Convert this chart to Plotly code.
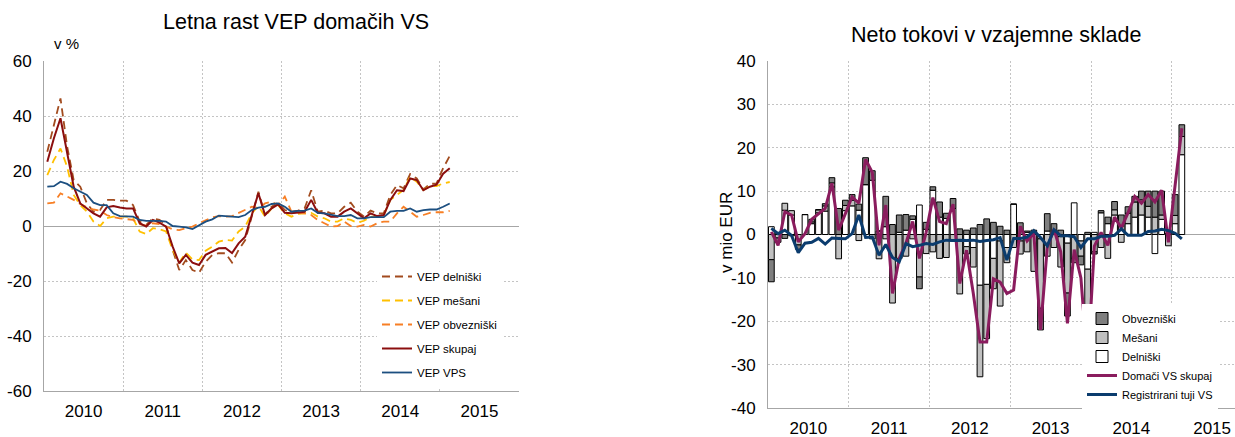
import plotly.graph_objects as go

# ---------------- data ----------------
years = ["2010", "2011", "2012", "2013", "2014", "2015"]
# months Jan 2010 .. Feb 2015 (62 monthly points)
n_months = 62

vep_delniski = [27, 36.7, 46.4, 29, 16.7, 14.3, 8.2, 5.2, 5.8, 9.5, 9.5, 9.2,
                9.2, 7.6, 1.6, 0.4, 2.8, 2.2, 0.4, -8.7, -16, -12.4, -16, -17,
                -13, -10.5, -9.9, -9.9, -13.3, -8.7, -5.1, 3.5, 12.5, 4, 7, 8.5,
                5.8, 5.2, 5.6, 6.4, 13, 5.2, 5.6, 4.6, 4.6, 7, 8.5, 5.2,
                3.4, 5.6, 4.6, 4.6, 11.3, 14.9, 13.7, 18.9, 17.3, 13.3, 15.3, 15.5,
                21, 25.5]
vep_mesani = [18.5, 24, 28.2, 21.6, 11.3, 7.6, 5.2, 1.6, 0, 2.8, 3.4, 3.4,
              3.4, 2.8, -2, -2.9, -0.8, -1.2, -2, -8.7, -13.3, -9.7, -12.1, -12.4,
              -9, -7.5, -5.7, -5.1, -5.3, -2, -0.2, 4.6, 7.3, 3.4, 6.4, 7.6,
              4.6, 3.4, 4.4, 4.6, 4.8, 3.4, 2.8, 1.6, 1.6, 2.8, 2.2, 1.2,
              1.9, 3.4, 3.2, 4, 9.5, 11.3, 13.1, 17.9, 16.1, 13.1, 14.5, 14.5,
              15.5, 16]
vep_obvezniski = [8.2, 8.5, 11.9, 10.7, 9.5, 8, 6.8, 6, 5.6, 4, 3.2, 2.8,
                  2.4, 2.2, 0.7, 0.1, 1, 0.7, -0.2, -1.2, -1.5, -0.8, -0.2, 1,
                  2.2, 3.2, 3.6, 3.4, 3.6, 4.8, 5.8, 7, 6.4, 8.2, 8.8, 7.6,
                  10.7, 5.2, 4.8, 4.6, 4, 2.2, 1, -0.2, 0, 1.6, 0, -0.2,
                  0.4, -0.2, 1, 1.6, 1.6, 4.6, 7, 5.2, 3.4, 4, 4.8, 5,
                  5, 5.5]
vep_skupaj = [23.4, 31.9, 39.2, 27, 14.3, 8.2, 6.4, 4.6, 3.4, 6.8, 7.3, 6.7,
              6.4, 6.4, 1.0, -0.2, 2.2, 1.2, -0.2, -7.5, -13.6, -10.5, -13.3, -14.2,
              -10.5, -9.3, -8.1, -8.0, -9.8, -6.3, -3.9, 4, 11.9, 4, 6.4, 7.9,
              4.8, 4.6, 4.8, 5.2, 9.5, 4.8, 4.6, 3.4, 3.4, 5.2, 6.4, 4.6,
              2.8, 4.6, 3.6, 4.0, 9.5, 13.0, 12.7, 17.3, 16.7, 13.0, 14.3, 15.0,
              19.0, 21.0]
vep_vps = [14.3, 14.5, 16.1, 15.3, 13.7, 12.5, 11.3, 8.5, 7.6, 7.6, 4.6, 3.6,
           3.4, 3.4, 2.2, 1.9, 1.9, 1.9, 1.6, 0, -0.2, -0.5, -1.1, 0.4,
           1.6, 2.4, 3.8, 3.6, 3.4, 3.2, 4, 5.8, 6.7, 7, 8, 8.2,
           7, 5.2, 5.5, 5.6, 6.4, 4.8, 4.6, 4, 3.6, 3.6, 4, 2.8,
           2.8, 3.2, 3.2, 3.2, 5.2, 5.5, 5.5, 6.4, 5.2, 5.8, 6, 6,
           7, 8.2]

# net flows (mio EUR)
tok_delniski = [1.8, 0.3, 5.6, 4.5, 0, 4.6, 2.5, 5.0, 5.4, 11.0, 0, 5.5,
                6.6, 5.6, 11.5, 12.5, 0.8, 1.8, 0, 0.5, 1.0, 3.5, 6.8, 1.2,
                10.2, 4.0, 3.7, 6.0, 0, -2.8, -3.0, -11.7, -11.5, -5.5, -1.5, -3.0,
                7.0, -1.5, 0.5, 0, -1.0, 0.8, 0.5, -0.5, -2.0, 7.3, -1.5, -8.0,
                0.5, 5.0, 2.5, 4.5, 2.0, 2.5, 4.0, 4.5, 4.0, -4.4, 3.5, 0.3,
                2.5, 18.4]
tok_mesani = [-5.8, -0.8, 1.6, 1.0, -2.4, 0, 0.4, 0.7, 1.2, 0.9, -5.6, 1.2,
              1.3, -1.4, 0, -1.0, -5.6, -1.0, -15.8, -5.5, -5.0, -1.0, -9.8, -4.4,
              -4.0, -5.5, -5.3, -1.5, -13.7, -1.7, -4.5, -21.1, -12.5, -7.0, -15.0, -3.5,
              -3.0, -3.0, -4.0, -8.5, -16.0, -5.0, -3.0, -7.0, -11.5, -5.5, -3.5, -9.0,
              -4.0, -3.0, -5.5, 1.2, -1.8, 2.4, 3.5, 3.5, 2.5, 4.0, 1.0, -2.6,
              1.9, 4.2]
tok_obvezniski = [-5.1, -1.0, -0.9, -0.3, -1.0, 0, 0.6, 0, 0.5, 1.2, 6.0, 1.2,
                  1.3, 1.4, 6.2, 2.2, 0, 7.0, 2.3, 4.0, 3.6, 0.8, -2.7, 1.6,
                  0.8, 3.5, 1.2, 2.3, 1.3, 1.0, 1.5, 2.3, 3.6, 2.8, 1.9, 1.0,
                  0, 2.7, 0.3, 1.0, -5.0, 4.0, 2.0, 1.0, -5.3, -1.0, -2.0, 0.5,
                  -0.5, 0.5, 1.5, 1.9, 2.5, 1.5, 1.3, 2.0, 3.5, 6.0, 5.5, 0,
                  4.8, 2.7]
domaci_skupaj = [0.6, -2.5, 5.2, 4.5, -1.7, 0.2, 3.5, 4.8, 6.0, 11.8, 1.0, 4.8,
                 8.7, 7.2, 17.3, 14.3, -2.5, 6.8, -13.6, -5.5, -2.0, 3.0, -5.5, 0.5,
                 8.5, 3.0, 2.5, 7.0, -11.3, -3.6, -13.5, -24.8, -24.8, -10.2, -11.0, -13.6,
                 -12.8, 1.9, -1.5, 0.3, -22.0, -3.0, 1.2, -4.0, -20.5, -3.5, -10.0, -30.0,
                 -2.7, 0.5, -2.5, 4.0, 1.5, 5.0, 8.8, 7.2, 9.2, 7.5, 10.2, -1.8,
                 11.0, 24.5]
tuji_vs = [1.4, 0.2, 1.0, -0.2, -4.2, -2.0, -1.8, -0.9, -2.2, -0.8, -0.9, -1.0,
           0.2, 4.5, -0.7, -0.6, -4.8, -2.3, -5.3, -6.3, -2.1, -2.8, -2.5, -2.1,
           -2.3, -1.7, -1.3, -1.4, -1.3, -1.4, -1.3, -1.6, -1.4, -1.2, -0.7, -5.9,
           -0.9, -0.9, -0.6, 0.9, -0.7, -2.6, 1.1, -0.3, -0.3, -0.5, -3.0, -1.0,
           -1.0, -0.4, -0.4, -0.2, 1.3, -0.2, -0.2, -0.2, 0.7, 0.8, 1.2, 0.9,
           0.3, -1.0]

left_yticks = [-60, -40, -20, 0, 20, 40, 60]
right_yticks = [-40, -30, -20, -10, 0, 10, 20, 30, 40]

# ---------------- figure ----------------
x = list(range(n_months))
FONT = "Liberation Sans, Arial, sans-serif"
W, H = 1235, 437

fig = go.Figure()

left_series = [
    ("VEP delniški", vep_delniski, "#A24B1E", "8px,5px", 1.8),
    ("VEP mešani", vep_mesani, "#FFC000", "8px,5px", 1.8),
    ("VEP obvezniški", vep_obvezniski, "#F77F25", "8px,5px", 1.8),
    ("VEP skupaj", vep_skupaj, "#8B0E0E", "solid", 2.0),
    ("VEP VPS", vep_vps, "#1C4F80", "solid", 1.8),
]
for i, (name, vals, col, dash, w) in enumerate(left_series):
    fig.add_trace(go.Scatter(
        x=x, y=vals, name=name, mode="lines",
        line=dict(color=col, width=w, dash=dash),
        xaxis="x", yaxis="y", legend="legend", legendgroup=f"l{i}"))

bar_series = [
    ("Delniški", tok_delniski, "#FFFFFF", 3),
    ("Mešani", tok_mesani, "#C0C0C0", 2),
    ("Obvezniški", tok_obvezniski, "#7F7F7F", 1),
]
for name, vals, col, rank in bar_series:
    fig.add_trace(go.Bar(
        x=x, y=vals, name=name, marker=dict(color=col, line=dict(color="#000000", width=1)),
        xaxis="x2", yaxis="y2", legend="legend2", legendrank=rank))

fig.add_trace(go.Scatter(
    x=x, y=domaci_skupaj, name="Domači VS skupaj", mode="lines",
    line=dict(color="#8A1C5E", width=3), xaxis="x2", yaxis="y2",
    legend="legend2", legendrank=4))
fig.add_trace(go.Scatter(
    x=x, y=tuji_vs, name="Registrirani tuji VS", mode="lines",
    line=dict(color="#0B3C6E", width=3), xaxis="x2", yaxis="y2",
    legend="legend2", legendrank=5))

year_centers = [5.5 + 12 * k for k in range(len(years))]
year_bounds = [11.5 + 12 * k for k in range(len(years))]

grid = dict(showgrid=True, gridcolor="#C4C4C4", griddash="2px,2px", gridwidth=1)
common_x = dict(tickmode="array", tickvals=year_centers, ticktext=years,
                showgrid=False, zeroline=False, ticks="", automargin=False,
                showline=True, linecolor="#A6A6A6", linewidth=1,
                tickfont=dict(family=FONT, size=17, color="#000"),
                ticklabelstandoff=5)
common_y = dict(zeroline=True, zerolinecolor="#A6A6A6", zerolinewidth=1,
                showline=True, linecolor="#A6A6A6", ticks="", automargin=False,
                tickfont=dict(family=FONT, size=17, color="#000"),
                ticklabelstandoff=8)

fig.update_layout(
    template="none",
    width=W, height=H, margin=dict(l=0, r=0, t=0, b=0, pad=0), autosize=False,
    paper_bgcolor="white", plot_bgcolor="white",
    font=dict(family=FONT, color="#000"),
    barmode="relative", bargap=0.15,
    showlegend=True,
    xaxis=dict(domain=[44 / W, 519 / W], range=[-0.5, 71.5], anchor="y",
               minor=dict(tickmode="array", tickvals=year_bounds, **grid), **common_x),
    yaxis=dict(domain=[1 - 391 / H, 1 - 61 / H], range=[-60, 60], anchor="x",
               tickmode="array", tickvals=left_yticks, ticktext=[str(v) for v in left_yticks],
               **common_y, **grid),
    xaxis2=dict(domain=[768 / W, 1.0], range=[-0.5, 68.9], anchor="y2",
                minor=dict(tickmode="array", tickvals=year_bounds[:5], **grid), **common_x),
    yaxis2=dict(domain=[1 - 408 / H, 1 - 61 / H], range=[-40, 40], anchor="x2",
                tickmode="array", tickvals=right_yticks, ticktext=[str(v) for v in right_yticks],
                **common_y, **grid),
    legend=dict(x=377 / W, y=1 - 262 / H, xanchor="left", yanchor="top",
                bgcolor="white", font=dict(family=FONT, size=11.5, color="#000"),
                traceorder="grouped", tracegroupgap=5, itemwidth=30),
    legend2=dict(x=1082 / W, y=1 - 304 / H, xanchor="left", yanchor="top",
                 bgcolor="white", font=dict(family=FONT, size=11, color="#000"),
                 traceorder="normal", itemwidth=30),
    annotations=[
        dict(text="Letna rast VEP domačih VS", x=296 / W, y=1 - 22 / H, xref="paper", yref="paper",
             showarrow=False, xanchor="center", yanchor="middle", font=dict(family=FONT, size=21.5)),
        dict(text="v %", x=52 / W, y=1 - 43 / H, xref="paper", yref="paper",
             showarrow=False, xanchor="left", yanchor="middle", font=dict(family=FONT, size=15)),
        dict(text="Neto tokovi v vzajemne sklade", x=996 / W, y=1 - 35 / H, xref="paper", yref="paper",
             showarrow=False, xanchor="center", yanchor="middle", font=dict(family=FONT, size=21.5)),
        dict(text="v mio EUR", x=727 / W, y=1 - 233 / H, xref="paper", yref="paper", textangle=-90,
             showarrow=False, xanchor="center", yanchor="middle", font=dict(family=FONT, size=17)),
    ],
)

fig.write_html("out.html", config={"displayModeBar": False},
               post_script="document.body.style.margin='0px';document.body.style.overflow='hidden';")
